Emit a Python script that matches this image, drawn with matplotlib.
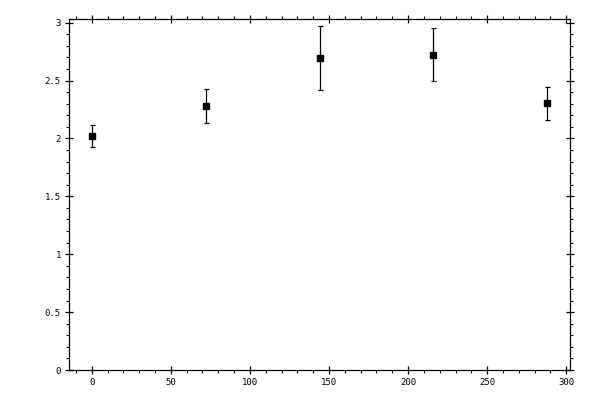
import numpy as np
import matplotlib
matplotlib.use('Agg')
import matplotlib.pyplot as plt
from matplotlib.ticker import MultipleLocator

# values
x = [0, 72, 144, 216, 288]
y = [2.02, 2.28, 2.695, 2.725, 2.305]
err = [0.095, 0.148, 0.275, 0.23, 0.143]

plt.rcParams['font.family'] = 'DejaVu Sans Mono'
plt.rcParams['font.size'] = 6.5

fig = plt.figure(figsize=(6.0, 4.0), dpi=100)
ax = fig.add_axes([0.115, 0.075, 0.835, 0.877])

ax.errorbar(x, y, yerr=err, fmt='s', color='k', ms=5, capsize=1.8,
            elinewidth=0.9, capthick=0.9)

ax.set_xlim(-14.4, 302.4)
ax.set_ylim(0, 3.03)
ax.xaxis.set_major_locator(MultipleLocator(50))
ax.xaxis.set_minor_locator(MultipleLocator(10))
ax.yaxis.set_major_locator(MultipleLocator(0.5))
ax.yaxis.set_minor_locator(MultipleLocator(0.1))
ax.yaxis.set_major_formatter(plt.FuncFormatter(lambda v, p: ('%g' % v)))

for s in ax.spines.values():
    s.set_linewidth(0.9)
ax.tick_params(which='major', direction='inout', length=5.8, width=0.9,
               top=True, right=True, pad=3)
ax.tick_params(which='minor', direction='out', length=2.4, width=0.8,
               top=True, right=True)

plt.savefig('out.png', dpi=100)
